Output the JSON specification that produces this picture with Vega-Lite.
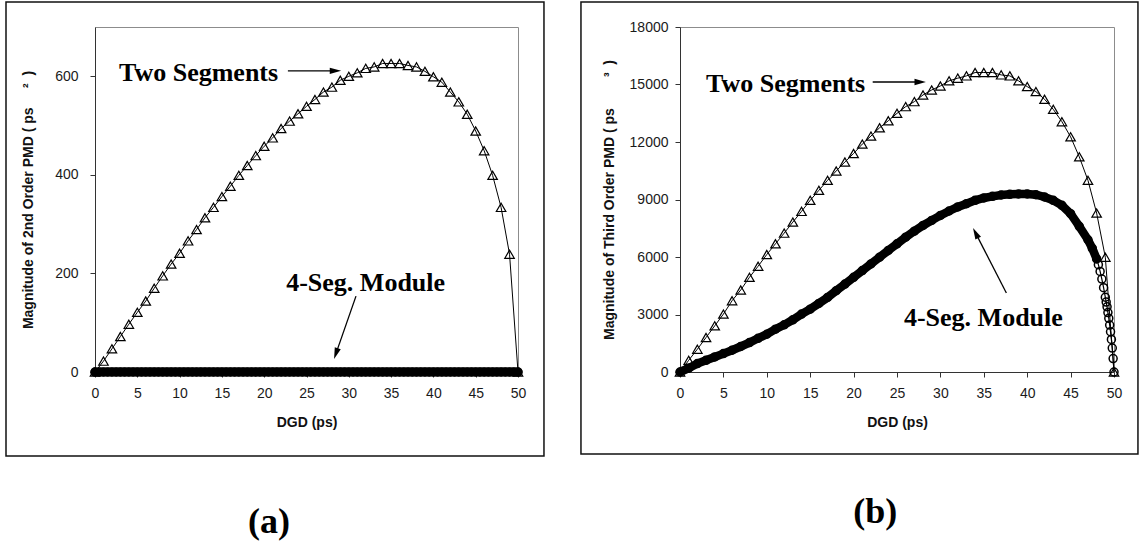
{
  "$schema": "https://vega.github.io/schema/vega-lite/v6.json",
  "background": "white",
  "padding": {"left": 4, "top": 0, "right": 0, "bottom": 0},
  "config": {
    "view": {"stroke": "#8c8c8c", "strokeWidth": 1},
    "axis": {
      "grid": false,
      "labelFlush": false,
      "labelFont": "Liberation Sans",
      "labelFontSize": 14,
      "labelColor": "#1a1a1a",
      "titleFont": "Liberation Sans",
      "titleFontSize": 14,
      "titleFontWeight": "bold",
      "titleColor": "#111",
      "domainColor": "#333",
      "tickColor": "#333",
      "tickSize": 5
    }
  },
  "datasets": {
    "pmd2_two": [
      {"dgd": 0, "pmd": 0}, {"dgd": 1, "pmd": 22}, {"dgd": 2, "pmd": 47}, {"dgd": 3, "pmd": 72}, {"dgd": 4, "pmd": 97},
      {"dgd": 5, "pmd": 121}, {"dgd": 6, "pmd": 144}, {"dgd": 7, "pmd": 170}, {"dgd": 8, "pmd": 195}, {"dgd": 9, "pmd": 219},
      {"dgd": 10, "pmd": 241}, {"dgd": 11, "pmd": 266}, {"dgd": 12, "pmd": 289}, {"dgd": 13, "pmd": 313}, {"dgd": 14, "pmd": 334},
      {"dgd": 15, "pmd": 356}, {"dgd": 16, "pmd": 377}, {"dgd": 17, "pmd": 399}, {"dgd": 18, "pmd": 419}, {"dgd": 19, "pmd": 439},
      {"dgd": 20, "pmd": 458}, {"dgd": 21, "pmd": 475}, {"dgd": 22, "pmd": 494}, {"dgd": 23, "pmd": 509}, {"dgd": 24, "pmd": 524},
      {"dgd": 25, "pmd": 539}, {"dgd": 26, "pmd": 553}, {"dgd": 27, "pmd": 568}, {"dgd": 28, "pmd": 578}, {"dgd": 29, "pmd": 592},
      {"dgd": 30, "pmd": 600}, {"dgd": 31, "pmd": 607}, {"dgd": 32, "pmd": 616}, {"dgd": 33, "pmd": 619}, {"dgd": 34, "pmd": 626},
      {"dgd": 35, "pmd": 626}, {"dgd": 36, "pmd": 626}, {"dgd": 37, "pmd": 622}, {"dgd": 38, "pmd": 619}, {"dgd": 39, "pmd": 610},
      {"dgd": 40, "pmd": 599}, {"dgd": 41, "pmd": 588}, {"dgd": 42, "pmd": 568}, {"dgd": 43, "pmd": 548}, {"dgd": 44, "pmd": 523},
      {"dgd": 45, "pmd": 489}, {"dgd": 46, "pmd": 449}, {"dgd": 47, "pmd": 399}, {"dgd": 48, "pmd": 334}, {"dgd": 49, "pmd": 239},
      {"dgd": 50, "pmd": 0}
    ],
    "pmd2_four": [
      {"dgd": 0, "pmd": 0}, {"dgd": 0.5, "pmd": 0}, {"dgd": 1, "pmd": 0}, {"dgd": 1.5, "pmd": 0}, {"dgd": 2, "pmd": 0},
      {"dgd": 2.5, "pmd": 0}, {"dgd": 3, "pmd": 0}, {"dgd": 3.5, "pmd": 0}, {"dgd": 4, "pmd": 0}, {"dgd": 4.5, "pmd": 0},
      {"dgd": 5, "pmd": 0}, {"dgd": 5.5, "pmd": 0}, {"dgd": 6, "pmd": 0}, {"dgd": 6.5, "pmd": 0}, {"dgd": 7, "pmd": 0},
      {"dgd": 7.5, "pmd": 0}, {"dgd": 8, "pmd": 0}, {"dgd": 8.5, "pmd": 0}, {"dgd": 9, "pmd": 0}, {"dgd": 9.5, "pmd": 0},
      {"dgd": 10, "pmd": 0}, {"dgd": 10.5, "pmd": 0}, {"dgd": 11, "pmd": 0}, {"dgd": 11.5, "pmd": 0}, {"dgd": 12, "pmd": 0},
      {"dgd": 12.5, "pmd": 0}, {"dgd": 13, "pmd": 0}, {"dgd": 13.5, "pmd": 0}, {"dgd": 14, "pmd": 0}, {"dgd": 14.5, "pmd": 0},
      {"dgd": 15, "pmd": 0}, {"dgd": 15.5, "pmd": 0}, {"dgd": 16, "pmd": 0}, {"dgd": 16.5, "pmd": 0}, {"dgd": 17, "pmd": 0},
      {"dgd": 17.5, "pmd": 0}, {"dgd": 18, "pmd": 0}, {"dgd": 18.5, "pmd": 0}, {"dgd": 19, "pmd": 0}, {"dgd": 19.5, "pmd": 0},
      {"dgd": 20, "pmd": 0}, {"dgd": 20.5, "pmd": 0}, {"dgd": 21, "pmd": 0}, {"dgd": 21.5, "pmd": 0}, {"dgd": 22, "pmd": 0},
      {"dgd": 22.5, "pmd": 0}, {"dgd": 23, "pmd": 0}, {"dgd": 23.5, "pmd": 0}, {"dgd": 24, "pmd": 0}, {"dgd": 24.5, "pmd": 0},
      {"dgd": 25, "pmd": 0}, {"dgd": 25.5, "pmd": 0}, {"dgd": 26, "pmd": 0}, {"dgd": 26.5, "pmd": 0}, {"dgd": 27, "pmd": 0},
      {"dgd": 27.5, "pmd": 0}, {"dgd": 28, "pmd": 0}, {"dgd": 28.5, "pmd": 0}, {"dgd": 29, "pmd": 0}, {"dgd": 29.5, "pmd": 0},
      {"dgd": 30, "pmd": 0}, {"dgd": 30.5, "pmd": 0}, {"dgd": 31, "pmd": 0}, {"dgd": 31.5, "pmd": 0}, {"dgd": 32, "pmd": 0},
      {"dgd": 32.5, "pmd": 0}, {"dgd": 33, "pmd": 0}, {"dgd": 33.5, "pmd": 0}, {"dgd": 34, "pmd": 0}, {"dgd": 34.5, "pmd": 0},
      {"dgd": 35, "pmd": 0}, {"dgd": 35.5, "pmd": 0}, {"dgd": 36, "pmd": 0}, {"dgd": 36.5, "pmd": 0}, {"dgd": 37, "pmd": 0},
      {"dgd": 37.5, "pmd": 0}, {"dgd": 38, "pmd": 0}, {"dgd": 38.5, "pmd": 0}, {"dgd": 39, "pmd": 0}, {"dgd": 39.5, "pmd": 0},
      {"dgd": 40, "pmd": 0}, {"dgd": 40.5, "pmd": 0}, {"dgd": 41, "pmd": 0}, {"dgd": 41.5, "pmd": 0}, {"dgd": 42, "pmd": 0},
      {"dgd": 42.5, "pmd": 0}, {"dgd": 43, "pmd": 0}, {"dgd": 43.5, "pmd": 0}, {"dgd": 44, "pmd": 0}, {"dgd": 44.5, "pmd": 0},
      {"dgd": 45, "pmd": 0}, {"dgd": 45.5, "pmd": 0}, {"dgd": 46, "pmd": 0}, {"dgd": 46.5, "pmd": 0}, {"dgd": 47, "pmd": 0},
      {"dgd": 47.5, "pmd": 0}, {"dgd": 48, "pmd": 0}, {"dgd": 48.5, "pmd": 0}, {"dgd": 49, "pmd": 0}, {"dgd": 49.5, "pmd": 0},
      {"dgd": 50, "pmd": 0}
    ],
    "pmd3_two": [
      {"dgd": 0, "pmd": 0}, {"dgd": 1, "pmd": 610}, {"dgd": 2, "pmd": 1190}, {"dgd": 3, "pmd": 1800}, {"dgd": 4, "pmd": 2410},
      {"dgd": 5, "pmd": 3020}, {"dgd": 6, "pmd": 3720}, {"dgd": 7, "pmd": 4280}, {"dgd": 8, "pmd": 4940}, {"dgd": 9, "pmd": 5520},
      {"dgd": 10, "pmd": 6130}, {"dgd": 11, "pmd": 6690}, {"dgd": 12, "pmd": 7245}, {"dgd": 13, "pmd": 7820}, {"dgd": 14, "pmd": 8380},
      {"dgd": 15, "pmd": 8955}, {"dgd": 16, "pmd": 9480}, {"dgd": 17, "pmd": 10000}, {"dgd": 18, "pmd": 10490}, {"dgd": 19, "pmd": 10960},
      {"dgd": 20, "pmd": 11400}, {"dgd": 21, "pmd": 11890}, {"dgd": 22, "pmd": 12310}, {"dgd": 23, "pmd": 12745}, {"dgd": 24, "pmd": 13110},
      {"dgd": 25, "pmd": 13495}, {"dgd": 26, "pmd": 13845}, {"dgd": 27, "pmd": 14105}, {"dgd": 28, "pmd": 14455}, {"dgd": 29, "pmd": 14715},
      {"dgd": 30, "pmd": 14925}, {"dgd": 31, "pmd": 15190}, {"dgd": 32, "pmd": 15330}, {"dgd": 33, "pmd": 15450}, {"dgd": 34, "pmd": 15625},
      {"dgd": 35, "pmd": 15625}, {"dgd": 36, "pmd": 15625}, {"dgd": 37, "pmd": 15500}, {"dgd": 38, "pmd": 15450}, {"dgd": 39, "pmd": 15190},
      {"dgd": 40, "pmd": 14890}, {"dgd": 41, "pmd": 14630}, {"dgd": 42, "pmd": 14230}, {"dgd": 43, "pmd": 13705}, {"dgd": 44, "pmd": 13060},
      {"dgd": 45, "pmd": 12270}, {"dgd": 46, "pmd": 11225}, {"dgd": 47, "pmd": 10000}, {"dgd": 48, "pmd": 8290}, {"dgd": 49, "pmd": 5990},
      {"dgd": 50, "pmd": 0}
    ],
    "pmd3_four": [
      {"dgd": 0, "pmd": 0}, {"dgd": 1, "pmd": 200}, {"dgd": 2, "pmd": 440}, {"dgd": 3, "pmd": 610}, {"dgd": 4, "pmd": 785},
      {"dgd": 5, "pmd": 960}, {"dgd": 6, "pmd": 1135}, {"dgd": 7, "pmd": 1330}, {"dgd": 8, "pmd": 1535}, {"dgd": 9, "pmd": 1760},
      {"dgd": 10, "pmd": 1970}, {"dgd": 11, "pmd": 2235}, {"dgd": 12, "pmd": 2460}, {"dgd": 13, "pmd": 2725}, {"dgd": 14, "pmd": 3020},
      {"dgd": 15, "pmd": 3280}, {"dgd": 16, "pmd": 3580}, {"dgd": 17, "pmd": 3890}, {"dgd": 18, "pmd": 4240}, {"dgd": 19, "pmd": 4590},
      {"dgd": 20, "pmd": 4940}, {"dgd": 21, "pmd": 5290}, {"dgd": 22, "pmd": 5640}, {"dgd": 23, "pmd": 5990}, {"dgd": 24, "pmd": 6340},
      {"dgd": 25, "pmd": 6690}, {"dgd": 26, "pmd": 7035}, {"dgd": 27, "pmd": 7350}, {"dgd": 28, "pmd": 7645}, {"dgd": 29, "pmd": 7910},
      {"dgd": 30, "pmd": 8170}, {"dgd": 31, "pmd": 8400}, {"dgd": 32, "pmd": 8610}, {"dgd": 33, "pmd": 8780}, {"dgd": 34, "pmd": 8955},
      {"dgd": 35, "pmd": 9080}, {"dgd": 36, "pmd": 9165}, {"dgd": 37, "pmd": 9235}, {"dgd": 38, "pmd": 9270}, {"dgd": 39, "pmd": 9290},
      {"dgd": 40, "pmd": 9290}, {"dgd": 41, "pmd": 9250}, {"dgd": 42, "pmd": 9130}, {"dgd": 43, "pmd": 8955}, {"dgd": 44, "pmd": 8695},
      {"dgd": 45, "pmd": 8260}, {"dgd": 46, "pmd": 7600}, {"dgd": 47, "pmd": 6900}, {"dgd": 47.5, "pmd": 6450}, {"dgd": 48, "pmd": 5900},
      {"dgd": 48.2, "pmd": 5600}, {"dgd": 48.4, "pmd": 5250}, {"dgd": 48.6, "pmd": 4850}, {"dgd": 48.8, "pmd": 4400}, {"dgd": 49, "pmd": 3900},
      {"dgd": 49.1, "pmd": 3650}, {"dgd": 49.2, "pmd": 3400}, {"dgd": 49.3, "pmd": 3100}, {"dgd": 49.4, "pmd": 2800}, {"dgd": 49.5, "pmd": 2450},
      {"dgd": 49.6, "pmd": 2100}, {"dgd": 49.7, "pmd": 1700}, {"dgd": 49.8, "pmd": 1250}, {"dgd": 49.9, "pmd": 700}, {"dgd": 50, "pmd": 0}
    ]
  },
  "spacing": 162,
  "bounds": "flush",
  "hconcat": [
    {
      "width": 423,
      "height": 345,
      "layer": [
        {
          "data": {"name": "pmd2_two"},
          "mark": {"type": "line", "color": "#000", "strokeWidth": 1},
          "encoding": {
            "x": {"field": "dgd", "type": "quantitative", "scale": {"domain": [0, 50], "nice": false},
                  "axis": {"title": "DGD (ps)", "values": [0, 5, 10, 15, 20, 25, 30, 35, 40, 45, 50], "labelPadding": 9, "titlePadding": 15}},
            "y": {"field": "pmd", "type": "quantitative", "scale": {"domain": [0, 700], "nice": false},
                  "axis": {"title": "Magnitude of 2nd Order PMD ( ps\u00a0\u00a0\u00a0\u00a0\u00a0²\u00a0\u00a0)", "values": [0, 200, 400, 600], "labelPadding": 12, "titlePadding": 19}}
          }
        },
        {
          "data": {"name": "pmd2_two"},
          "mark": {"type": "point", "shape": "triangle-up", "size": 90, "filled": false, "stroke": "#000", "strokeWidth": 1.2, "opacity": 1},
          "encoding": {
            "x": {"field": "dgd", "type": "quantitative"},
            "y": {"field": "pmd", "type": "quantitative"}
          }
        },
        {
          "data": {"name": "pmd2_four"},
          "mark": {"type": "line", "color": "#000", "strokeWidth": 9, "strokeCap": "round"},
          "encoding": {
            "x": {"field": "dgd", "type": "quantitative"},
            "y": {"field": "pmd", "type": "quantitative"}
          }
        },
        {
          "data": {"name": "pmd2_four"},
          "mark": {"type": "point", "shape": "circle", "size": 64, "filled": false, "stroke": "#000", "strokeWidth": 1.5, "opacity": 1},
          "encoding": {
            "x": {"field": "dgd", "type": "quantitative"},
            "y": {"field": "pmd", "type": "quantitative"}
          }
        },
        {
          "data": {"values": [{}]},
          "mark": {"type": "rect", "fillOpacity": 0, "stroke": "#111", "strokeWidth": 1.5},
          "encoding": {
            "x": {"datum": -10.52, "type": "quantitative"},
            "x2": {"datum": 53.07},
            "y": {"datum": 750.7, "type": "quantitative"},
            "y2": {"datum": -170.4}
          }
        },
        {
          "data": {"values": [{}]},
          "mark": {"type": "text", "text": "Two Segments", "font": "Liberation Serif", "fontWeight": "bold", "fontSize": 26, "align": "left", "baseline": "middle", "color": "#000"},
          "encoding": {
            "x": {"datum": 2.84, "type": "quantitative"},
            "y": {"datum": 607, "type": "quantitative"}
          }
        },
        {
          "data": {"values": [{}]},
          "mark": {"type": "text", "text": "4-Seg. Module", "font": "Liberation Serif", "fontWeight": "bold", "fontSize": 26, "align": "left", "baseline": "middle", "color": "#000"},
          "encoding": {
            "x": {"datum": 22.6, "type": "quantitative"},
            "y": {"datum": 180.6, "type": "quantitative"}
          }
        },
        {
          "data": {"values": [{}]},
          "mark": {"type": "rule", "color": "#000", "strokeWidth": 1.3},
          "encoding": {
            "x": {"datum": 22.8, "type": "quantitative"},
            "x2": {"datum": 28.35},
            "y": {"datum": 611, "type": "quantitative"},
            "y2": {"datum": 611}
          }
        },
        {
          "data": {"values": [{}]},
          "mark": {"type": "point", "shape": "M0,-1L0.5,0.8L-0.5,0.8Z", "size": 160, "filled": true, "color": "#000", "opacity": 1, "angle": 90},
          "encoding": {
            "x": {"datum": 28.35, "type": "quantitative"},
            "y": {"datum": 611, "type": "quantitative"}
          }
        },
        {
          "data": {"values": [{}]},
          "mark": {"type": "rule", "color": "#000", "strokeWidth": 1.3},
          "encoding": {
            "x": {"datum": 30.85, "type": "quantitative"},
            "x2": {"datum": 28.5},
            "y": {"datum": 154, "type": "quantitative"},
            "y2": {"datum": 38.3}
          }
        },
        {
          "data": {"values": [{}]},
          "mark": {"type": "point", "shape": "M0,-1L0.5,0.8L-0.5,0.8Z", "size": 160, "filled": true, "color": "#000", "opacity": 1, "angle": 199},
          "encoding": {
            "x": {"datum": 28.5, "type": "quantitative"},
            "y": {"datum": 38.3, "type": "quantitative"}
          }
        },
        {
          "data": {"values": [{}]},
          "mark": {"type": "text", "text": "(a)", "font": "Liberation Serif", "fontWeight": "bold", "fontSize": 36, "align": "center", "baseline": "alphabetic", "color": "#000"},
          "encoding": {
            "x": {"datum": 20.57, "type": "quantitative"},
            "y": {"datum": -326.7, "type": "quantitative"}
          }
        }
      ]
    },
    {
      "width": 434,
      "height": 345,
      "layer": [
        {
          "data": {"name": "pmd3_two"},
          "mark": {"type": "line", "color": "#000", "strokeWidth": 1},
          "encoding": {
            "x": {"field": "dgd", "type": "quantitative", "scale": {"domain": [0, 50], "nice": false},
                  "axis": {"title": "DGD (ps)", "values": [0, 5, 10, 15, 20, 25, 30, 35, 40, 45, 50], "labelPadding": 9, "titlePadding": 15}},
            "y": {"field": "pmd", "type": "quantitative", "scale": {"domain": [0, 18000], "nice": false},
                  "axis": {"title": "Magnitude of Third Order PMD ( ps\u00a0\u00a0\u00a0\u00a0\u00a0\u00a0\u00a0\u00a0³\u00a0\u00a0)", "values": [0, 3000, 6000, 9000, 12000, 15000, 18000], "format": "d", "labelPadding": 7, "titlePadding": 13}}
          }
        },
        {
          "data": {"name": "pmd3_two"},
          "mark": {"type": "point", "shape": "triangle-up", "size": 90, "filled": false, "stroke": "#000", "strokeWidth": 1.2, "opacity": 1},
          "encoding": {
            "x": {"field": "dgd", "type": "quantitative"},
            "y": {"field": "pmd", "type": "quantitative"}
          }
        },
        {
          "data": {"name": "pmd3_four"},
          "transform": [{"filter": "datum.dgd <= 48"}],
          "mark": {"type": "line", "color": "#000", "strokeWidth": 8.5, "strokeCap": "round"},
          "encoding": {
            "x": {"field": "dgd", "type": "quantitative"},
            "y": {"field": "pmd", "type": "quantitative"}
          }
        },
        {
          "data": {"name": "pmd3_four"},
          "mark": {"type": "line", "color": "#000", "strokeWidth": 1.2},
          "encoding": {
            "x": {"field": "dgd", "type": "quantitative"},
            "y": {"field": "pmd", "type": "quantitative"}
          }
        },
        {
          "data": {"name": "pmd3_four"},
          "mark": {"type": "point", "shape": "circle", "size": 64, "filled": false, "stroke": "#000", "strokeWidth": 1.5, "opacity": 1},
          "encoding": {
            "x": {"field": "dgd", "type": "quantitative"},
            "y": {"field": "pmd", "type": "quantitative"}
          }
        },
        {
          "data": {"values": [{}]},
          "mark": {"type": "rect", "fillOpacity": 0, "stroke": "#111", "strokeWidth": 1.5},
          "encoding": {
            "x": {"datum": -11.41, "type": "quantitative"},
            "x2": {"datum": 52.76},
            "y": {"datum": 19304, "type": "quantitative"},
            "y2": {"datum": -4278}
          }
        },
        {
          "data": {"values": [{}]},
          "mark": {"type": "text", "text": "Two Segments", "font": "Liberation Serif", "fontWeight": "bold", "fontSize": 26, "align": "left", "baseline": "middle", "color": "#000"},
          "encoding": {
            "x": {"datum": 3.0, "type": "quantitative"},
            "y": {"datum": 15026, "type": "quantitative"}
          }
        },
        {
          "data": {"values": [{}]},
          "mark": {"type": "text", "text": "4-Seg. Module", "font": "Liberation Serif", "fontWeight": "bold", "fontSize": 26, "align": "left", "baseline": "middle", "color": "#000"},
          "encoding": {
            "x": {"datum": 25.8, "type": "quantitative"},
            "y": {"datum": 2817, "type": "quantitative"}
          }
        },
        {
          "data": {"values": [{}]},
          "mark": {"type": "rule", "color": "#000", "strokeWidth": 1.3},
          "encoding": {
            "x": {"datum": 22.2, "type": "quantitative"},
            "x2": {"datum": 27.6},
            "y": {"datum": 15130, "type": "quantitative"},
            "y2": {"datum": 15130}
          }
        },
        {
          "data": {"values": [{}]},
          "mark": {"type": "point", "shape": "M0,-1L0.5,0.8L-0.5,0.8Z", "size": 160, "filled": true, "color": "#000", "opacity": 1, "angle": 90},
          "encoding": {
            "x": {"datum": 27.6, "type": "quantitative"},
            "y": {"datum": 15130, "type": "quantitative"}
          }
        },
        {
          "data": {"values": [{}]},
          "mark": {"type": "rule", "color": "#000", "strokeWidth": 1.3},
          "encoding": {
            "x": {"datum": 37.6, "type": "quantitative"},
            "x2": {"datum": 34.09},
            "y": {"datum": 4122, "type": "quantitative"},
            "y2": {"datum": 7221}
          }
        },
        {
          "data": {"values": [{}]},
          "mark": {"type": "point", "shape": "M0,-1L0.5,0.8L-0.5,0.8Z", "size": 160, "filled": true, "color": "#000", "opacity": 1, "angle": 333},
          "encoding": {
            "x": {"datum": 34.09, "type": "quantitative"},
            "y": {"datum": 7221, "type": "quantitative"}
          }
        },
        {
          "data": {"values": [{}]},
          "mark": {"type": "text", "text": "(b)", "font": "Liberation Serif", "fontWeight": "bold", "fontSize": 36, "align": "center", "baseline": "alphabetic", "color": "#000"},
          "encoding": {
            "x": {"datum": 22.5, "type": "quantitative"},
            "y": {"datum": -7878, "type": "quantitative"}
          }
        }
      ]
    }
  ]
}
